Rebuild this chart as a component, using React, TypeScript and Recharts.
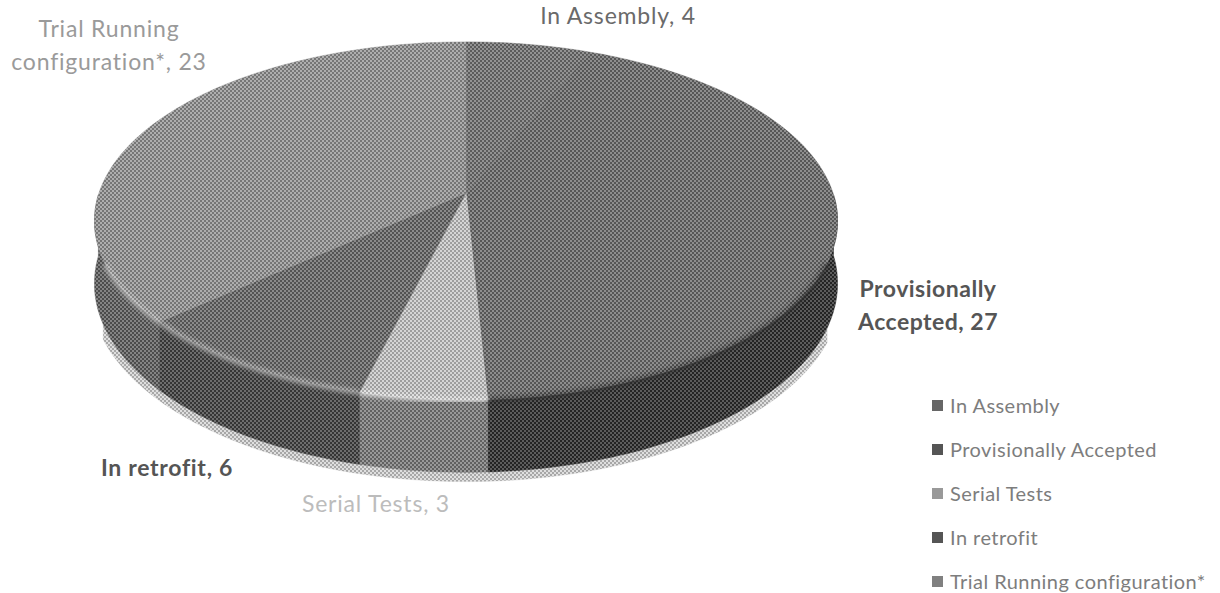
import React from 'react'
import { PieChart, Pie, Cell, Legend } from 'recharts'

const categories = ['In Assembly', 'Provisionally Accepted', 'Serial Tests', 'In retrofit', 'Trial Running configuration*']
const counts = [4, 27, 3, 6, 23]

const topColors = ['#757575', '#6e6e6e', '#cbcbcb', '#6a6a6a', '#979797']
const wallColors = ['#303030', '#2e2e2e', '#7c7c7c', '#444444', '#626262']
const rimColors = ['none', '#333333', '#f2f2f2', '#bdbdbd', '#c8c8c8']
const legendColors = ['#666666', '#555555', '#999999', '#555555', '#808080']

const labelLines = [['In Assembly, 4'], ['Provisionally', 'Accepted, 27'], ['Serial Tests, 3'], ['In retrofit, 6'], ['Trial Running', 'configuration*, 23']]
const labelX = [618, 928, 376, 167, 109]
const labelY = [24, 297, 512, 476, 37]
const labelFill = ['#6a6a6a', '#555555', '#bcbcbc', '#555555', '#9a9a9a']
const labelWeight = [400, 700, 400, 700, 400]
const labelSpacing = [0.8, 0.5, 0.8, 0.7, 0.8]

const data = categories.map((name, i) => ({ name, value: counts[i] }))

// fake 3d: the pie's own angles are pushed through a small perspective
const TILT = 0.476
const PERSP = 0.156
const DEPTH = 61

const project = (deg, cx, cy, r) => {
  const a = (deg * Math.PI) / 180
  const u = Math.cos(a)
  const v = -Math.sin(a)
  const w = 1 / (1 - PERSP * v)
  return { x: cx + r * u * w, y: cy + r * TILT * v * w, w }
}

const arcPoints = (p) => {
  const pts = []
  const steps = Math.max(2, Math.ceil(Math.abs(p.endAngle - p.startAngle)))
  for (let i = 0; i <= steps; i++) {
    pts.push(project(p.startAngle + ((p.endAngle - p.startAngle) * i) / steps, p.cx, p.cy, p.outerRadius))
  }
  return pts
}

const toPath = (pts) => pts.map((q, i) => `${i ? 'L' : 'M'}${q.x.toFixed(1)},${q.y.toFixed(1)}`).join(' ')

const TopFace = (p) => {
  const pts = arcPoints(p)
  const rim = rimColors[categories.indexOf(p.name)]
  const rimPts = pts.filter((q) => q.y > p.cy + 70)
  const d = `${toPath(pts)} L${p.cx},${p.cy} Z`
  return (
    <g>
      <path d={d} fill={p.fill} stroke={p.fill} strokeWidth={0.5} />
      {rim !== 'none' && rimPts.length > 1 && (
        <path d={toPath(rimPts)} fill="none" stroke={rim} strokeWidth={5} opacity={0.75} filter="url(#rimBlur)" />
      )}
      <path d={d} fill="url(#screen)" />
    </g>
  )
}

const wallShape = (depth, fromY) => (p) => {
  const pts = arcPoints(p).filter((q) => q.y > p.cy + fromY)
  if (pts.length < 2) return null
  const low = pts.map((q) => ({ x: q.x, y: q.y + depth * q.w })).reverse()
  const d = `${toPath(pts)} ${toPath(low).replace('M', 'L')} Z`
  return (
    <g>
      <path d={d} fill={p.fill} stroke={p.fill} strokeWidth={0.5} />
      <path d={d} fill="url(#screen)" />
    </g>
  )
}

const renderLabel = ({ index }) => (
  <text key={index} textAnchor="middle" fontFamily="Lato, sans-serif" fontSize={23} letterSpacing={labelSpacing[index]} fill={labelFill[index]} fontWeight={labelWeight[index]}>
    {labelLines[index].map((line, j) => (
      <tspan key={j} x={labelX[index]} y={labelY[index] + j * 33}>{line}</tspan>
    ))}
  </text>
)

const renderLegend = () => (
  <div>
    {categories.map((name, i) => (
      <div key={name} style={{ display: 'flex', alignItems: 'center', height: 44, fontFamily: 'Lato, sans-serif', fontSize: 20, letterSpacing: 0.45, color: '#7d7d7d', whiteSpace: 'nowrap' }}>
        <span style={{ width: 11, height: 11, marginRight: 7, background: legendColors[i], display: 'inline-block' }} />
        {name}
      </div>
    ))}
  </div>
)

export default function App() {
  return (
    <div style={{ position: 'absolute', left: 0, top: 0, width: 1220, height: 593, overflow: 'hidden' }}>
      <PieChart width={1220} height={593} margin={{ top: 0, right: 0, bottom: 0, left: 0 }}>
        <defs>
          <filter id="rimBlur" x="-20%" y="-20%" width="140%" height="140%">
            <feGaussianBlur stdDeviation="2" />
          </filter>
          <pattern id="screen" patternUnits="userSpaceOnUse" width="4" height="4">
            <rect x="0" y="0" width="2" height="2" fill="#000" opacity="0.22" />
            <rect x="2" y="2" width="2" height="2" fill="#000" opacity="0.22" />
            <rect x="2" y="0" width="2" height="2" fill="#fff" opacity="0.22" />
            <rect x="0" y="2" width="2" height="2" fill="#fff" opacity="0.22" />
          </pattern>
        </defs>
        <Pie data={data} dataKey="value" cx={466} cy={193} outerRadius={371} startAngle={90} endAngle={-270} legendType="none" isAnimationActive={false} shape={wallShape(67, 75)} stroke="none">
          {data.map((d) => <Cell key={d.name} fill="#d6d6d6" />)}
        </Pie>
        <Pie data={data} dataKey="value" cx={466} cy={193} outerRadius={367} startAngle={90} endAngle={-270} legendType="none" isAnimationActive={false} shape={wallShape(DEPTH, 0)} stroke="none">
          {data.map((d, i) => <Cell key={d.name} fill={wallColors[i]} />)}
        </Pie>
        <Pie data={data} dataKey="value" cx={466} cy={193} outerRadius={367} startAngle={90} endAngle={-270} isAnimationActive={false} shape={TopFace} label={renderLabel} labelLine={false} stroke="none">
          {data.map((d, i) => <Cell key={d.name} fill={topColors[i]} />)}
        </Pie>
        <Legend content={renderLegend} layout="vertical" wrapperStyle={{ position: 'absolute', left: 932, top: 383, width: 285 }} />
      </PieChart>
    </div>
  )
}
